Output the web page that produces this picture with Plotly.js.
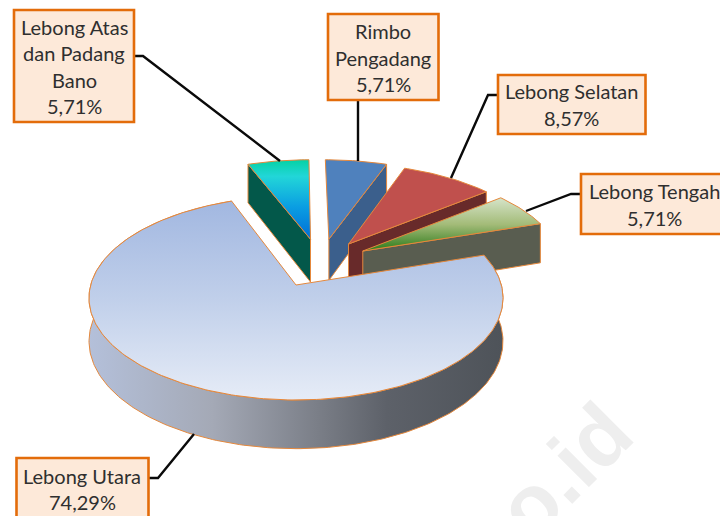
<!DOCTYPE html>
<html>
<head>
<meta charset="utf-8">
<script src="https://cdn.plot.ly/plotly-3.0.1.min.js"></script>
<style>html,body{margin:0;padding:0;background:#fff;overflow:hidden}#chart{width:720px;height:516px}</style>
</head>
<body>
<div id="chart"></div>
<script>
// ---- data (clockwise from 12 o'clock) ----
var categories = ['Rimbo Pengadang', 'Lebong Selatan', 'Lebong Tengah', 'Lebong Utara', 'Lebong Atas dan Padang Bano'];
var values = [5.71, 8.57, 5.71, 74.29, 5.71];
var labelNameLines = [['Rimbo', 'Pengadang'], ['Lebong Selatan'], ['Lebong Tengah'], ['Lebong Utara'], ['Lebong Atas', 'dan Padang', 'Bano']];

// ---- styling ----
var explodeU = [0.17, 0.27, 0.34, 0, 0.075];
var explodeV = [0.485, 0.431, 0.354, 0, 0.485];
var wallScale = [1.03, 1, 1, 1, 1.07];
var topFills = [
  {c: [[0, '#4f81bd'], [1, '#4f81bd']], s: 160, e: 240},
  {c: [[0, '#c0504d'], [1, '#c0504d']], s: 165, e: 245},
  {c: [[0, '#d6e4c9'], [0.5, '#a3bb78'], [0.8, '#5c9440'], [1, '#2a7d18']], s: 198, e: 251},
  {c: [[0, '#a0b6e0'], [0.5, '#c0cfea'], [1, '#e6ecf7']], s: 196, e: 400},
  {c: [[0, '#07d2a8'], [0.2, '#22d6d8'], [0.6, '#0a9de2'], [1, '#0070d8']], s: 161, e: 238}
];
var wallColors = ['#3b5f8c', '#682a2a', '#595d50', null, '#03584a'];
var wallEdgeAngleIndex = [1, 1, 1, null, 0];
var outline = '#e5883c';
var boxes = [
  {x0: 328, x1: 438.5, y0: 14, y1: 100, cx: 383, ys: [31, 57.5, 84], idx: 0},
  {x0: 498, x1: 645.5, y0: 75, y1: 134, cx: 571, ys: [91, 117.5], idx: 1},
  {x0: 581, x1: 725, y0: 174, y1: 234, cx: 654, ys: [191, 218], idx: 2},
  {x0: 16.5, x1: 148.5, y0: 458, y1: 525, cx: 82, ys: [476, 502], idx: 3},
  {x0: 14, x1: 134, y0: 10, y1: 122, cx: 74, ys: [27, 53, 80, 106], idx: 4}
];
var leaders = [
  {x: [358, 358], y: [101, 161]},
  {x: [497, 488, 451], y: [95, 95, 178]},
  {x: [580, 571, 526], y: [194, 194, 211]},
  {x: [149, 158, 194], y: [478, 478, 434]},
  {x: [135, 143, 280], y: [56, 56, 161]}
];

// ---- projection of the pie plane onto the picture ----
var OX = 296, OY = 285, A = 205.3, B = 100.3, K = 0.1275, DEPTH = 42.5;
function project(u, v) {
  var s = 1 + K * v;
  return {x: OX + A * u / s, y: OY - B * v / s, d: DEPTH / s};
}
var total = values.reduce(function (a, b) { return a + b; }, 0);
var traces = [];
var start = 0;
var spans = values.map(function (val) {
  var a0 = start; start += val / total * 360;
  return [a0, start];
});
function rad(d) { return d * Math.PI / 180; }
function rim(i, a) {
  return project(explodeU[i] + Math.sin(rad(a)), explodeV[i] + Math.cos(rad(a)));
}

function polyTrace(pts, fillSpec) {
  var t = {
    type: 'scatter', mode: 'lines', hoverinfo: 'skip', fill: 'toself',
    x: pts.map(function (p) { return p.x; }),
    y: pts.map(function (p) { return p.y; }),
    line: {color: outline, width: 1}
  };
  for (var k in fillSpec) t[k] = fillSpec[k];
  return t;
}

[4, 0, 1, 2, 3].forEach(function (i) {
  var a0 = spans[i][0], a1 = spans[i][1];
  var apex = project(explodeU[i], explodeV[i]);
  var arc = [];
  for (var a = a0; a < a1; a += 1) arc.push(rim(i, a));
  arc.push(rim(i, a1));

  if (wallColors[i]) {
    var edge = rim(i, spans[i][wallEdgeAngleIndex[i]]);
    traces.push(polyTrace([
      {x: apex.x, y: apex.y}, {x: edge.x, y: edge.y},
      {x: edge.x, y: edge.y + edge.d * wallScale[i]}, {x: apex.x, y: apex.y + apex.d * wallScale[i]},
      {x: apex.x, y: apex.y}
    ], {fillcolor: wallColors[i]}));
  } else {
    var lower = arc.map(function (p) { return {x: p.x, y: p.y + p.d}; }).reverse();
    traces.push(polyTrace(arc.concat(lower).concat([arc[0]]), {
      fillgradient: {type: 'horizontal', start: 88, stop: 503,
        colorscale: [[0, '#b4c0da'], [0.3, '#a4a9b6'], [0.55, '#7b7f88'], [0.72, '#5d6169'], [1, '#4e5359']]}
    }));
  }
  var f = topFills[i];
  traces.push(polyTrace([apex].concat(arc).concat([apex]), {
    fillgradient: {type: 'vertical', start: f.s, stop: f.e, colorscale: f.c}
  }));
});

// ---- leader lines ----
leaders.forEach(function (l) {
  traces.push({type: 'scatter', mode: 'lines', hoverinfo: 'skip', x: l.x, y: l.y,
    line: {color: '#0a0a0a', width: 2.4}});
});

// ---- label boxes ----
var shapes = boxes.map(function (b) {
  return {type: 'rect', xref: 'x', yref: 'y', x0: b.x0, x1: b.x1, y0: b.y0, y1: b.y1,
    fillcolor: '#fde9d9', line: {color: '#e36c0a', width: 2.6}, layer: 'above'};
});
var annotations = [];
boxes.forEach(function (b) {
  var pct = values[b.idx].toFixed(2).replace('.', ',') + '%';
  labelNameLines[b.idx].concat([pct]).forEach(function (line, n) {
    annotations.push({xref: 'x', yref: 'y', x: b.cx, y: b.ys[n], text: line, showarrow: false,
      xanchor: 'center', yanchor: 'middle', borderpad: 0,
      font: {family: 'Lato, "Open Sans", sans-serif', size: 20, color: '#2f2f2f'}});
  });
});
annotations.push({xref: 'x', yref: 'y', x: 546, y: 489, text: 'go.id', showarrow: false, textangle: -45,
  xanchor: 'center', yanchor: 'middle',
  font: {family: '"Liberation Sans", Arial, sans-serif', size: 84, color: '#eeeeee', weight: 700}});

Plotly.newPlot('chart', traces, {
  width: 720, height: 516,
  margin: {l: 0, r: 0, t: 0, b: 0},
  paper_bgcolor: '#ffffff', plot_bgcolor: '#ffffff',
  showlegend: false,
  xaxis: {range: [0, 720], visible: false, fixedrange: true},
  yaxis: {range: [516, 0], visible: false, fixedrange: true},
  shapes: shapes,
  annotations: annotations
}, {displayModeBar: false, staticPlot: true});
</script>
</body>
</html>
